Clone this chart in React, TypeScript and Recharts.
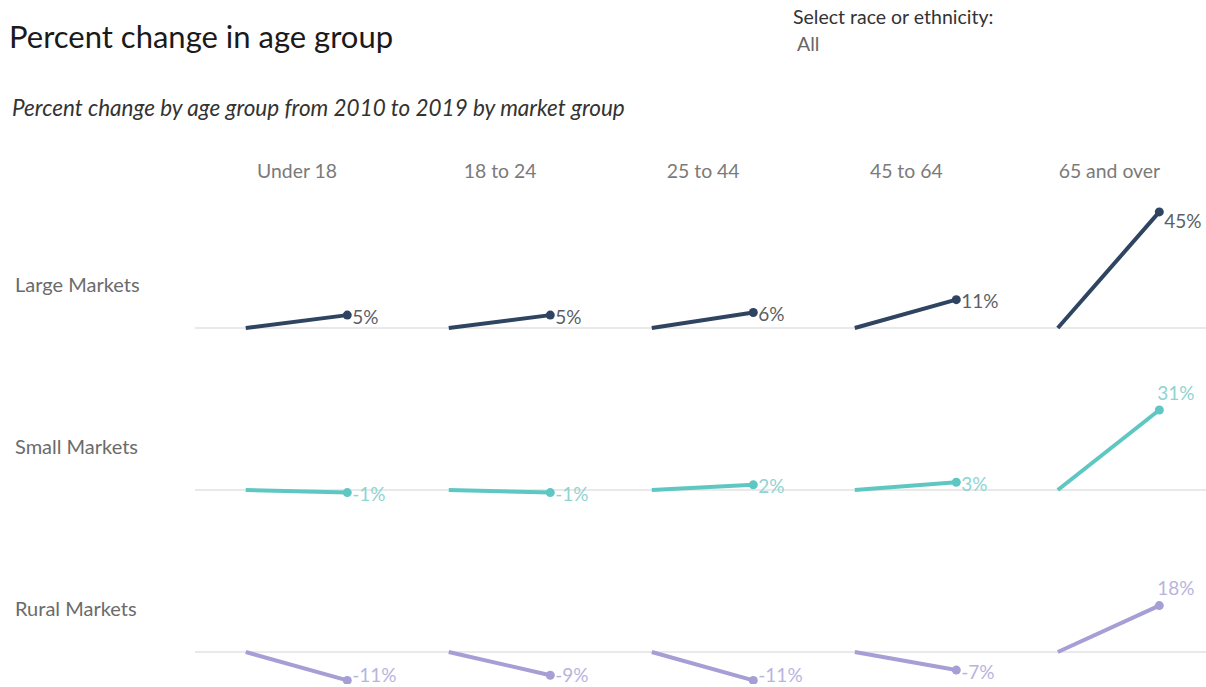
import React from 'react';
import { LineChart, Line, XAxis, YAxis, ReferenceLine } from 'recharts';

const AGE_GROUPS = ['Under 18', '18 to 24', '25 to 44', '45 to 64', '65 and over'];
const YEARS = ['2010', '2019'];
const MARKETS = ['Large Markets', 'Small Markets', 'Rural Markets'];

// percent change from 2010 to 2019, one value per age group
const LARGE_MARKETS = [5, 5, 6, 11, 45];
const SMALL_MARKETS = [-1, -1, 2, 3, 31];
const RURAL_MARKETS = [-11, -9, -11, -7, 18];
const START_VALUE = 0; // 2010 is the base year

const ROWS = [
  { name: MARKETS[0], values: LARGE_MARKETS, line: '#2f4461', label: '#5a5f66' },
  { name: MARKETS[1], values: SMALL_MARKETS, line: '#5fc7c3', label: '#8fd4d1' },
  { name: MARKETS[2], values: RURAL_MARKETS, line: '#a59fd6', label: '#b8b4dd' },
];

const FONT = 'Lato, "Noto Sans", sans-serif';
const CHART_LEFT = 195;
const CHART_W = 1011;
const CHART_H = 162;
const ROW_TOPS = [198, 360, 522];
const Y_DOMAIN = [-12.4, 50.4];
const X_DOMAIN = [-0.5, 9.46];

const buildData = (values: number[]) =>
  AGE_GROUPS.flatMap((group, gi) =>
    YEARS.map((year, yi) => ({
      x: gi * YEARS.length + yi,
      year,
      [group]: yi === 0 ? START_VALUE : values[gi],
    }))
  );

const makeDot = (color: string) => (props: any) => {
  const { cx, cy, index } = props;
  if (index % 2 === 0 || cy == null || Number.isNaN(cy)) return <g key={`d-${index}`} />;
  return <circle key={`d-${index}`} cx={cx} cy={cy} r={4.5} fill={color} />;
};

const makeLabel = (rowIdx: number, color: string) => (props: any) => {
  const { x, y, value, index } = props;
  if (value == null || index % 2 === 0 || y == null) return null;
  const last = Math.floor(index / 2) === AGE_GROUPS.length - 1;
  let tx = x + 5;
  let ty = y + 1;
  if (last && rowIdx === 0) {
    ty = y + 9;
  } else if (last) {
    tx = x - 2;
    ty = y - 18;
  }
  // keep labels near the bottom edge inside the view
  ty = Math.min(ty, CHART_H - 10);
  return (
    <text key={`l-${index}`} x={tx} y={ty} dominantBaseline="central" fontSize={19} fontFamily={FONT} fill={color}>
      {`${value}%`}
    </text>
  );
};

const MarketRow = ({ rowIdx }: { rowIdx: number }) => {
  const row = ROWS[rowIdx];
  const data = buildData(row.values);
  return (
    <div style={{ position: 'absolute', left: CHART_LEFT, top: ROW_TOPS[rowIdx] }}>
      <LineChart width={CHART_W} height={CHART_H} data={data} margin={{ top: 0, right: 0, bottom: 0, left: 0 }}>
        <XAxis dataKey="x" type="number" domain={X_DOMAIN} allowDataOverflow hide />
        <YAxis type="number" domain={Y_DOMAIN} allowDataOverflow hide />
        <ReferenceLine y={0} stroke="#d3d3d3" strokeWidth={1} />
        {AGE_GROUPS.map((group) => (
          <Line
            key={group}
            dataKey={group}
            type="linear"
            stroke={row.line}
            strokeWidth={4}
            dot={makeDot(row.line)}
            activeDot={false}
            label={makeLabel(rowIdx, row.label)}
            isAnimationActive={false}
          />
        ))}
      </LineChart>
    </div>
  );
};

const GROUP_SPACING = 203.1;
const FIRST_GROUP_CENTER = 297;
const ROW_LABEL_BASELINES = [292, 454, 616];

export default function App() {
  return (
    <div style={{ position: 'absolute', left: 0, top: 0, width: 1206, height: 687, background: '#fff', overflow: 'hidden' }}>
      {ROWS.map((_, i) => (
        <MarketRow key={i} rowIdx={i} />
      ))}
      <svg width={1206} height={687} style={{ position: 'absolute', left: 0, top: 0, pointerEvents: 'none' }} fontFamily={FONT}>
        <text x={9} y={48} fontSize={31} fill="#1a1a1a">Percent change in age group</text>
        <text x={793} y={24} fontSize={19.5} fill="#333">Select race or ethnicity:</text>
        <text x={797} y={51} fontSize={19.5} fill="#666">All</text>
        <text x={12} y={116} fontSize={22.5} fontStyle="italic" fill="#333">
          Percent change by age group from 2010 to 2019 by market group
        </text>
        {AGE_GROUPS.map((g, i) => (
          <text key={g} x={FIRST_GROUP_CENTER + i * GROUP_SPACING} y={178} fontSize={19.4} textAnchor="middle" fill="#7a7a7a">
            {g}
          </text>
        ))}
        {MARKETS.map((m, i) => (
          <text key={m} x={15} y={ROW_LABEL_BASELINES[i]} fontSize={20} fill="#6b6b6b">
            {m}
          </text>
        ))}
      </svg>
    </div>
  );
}
